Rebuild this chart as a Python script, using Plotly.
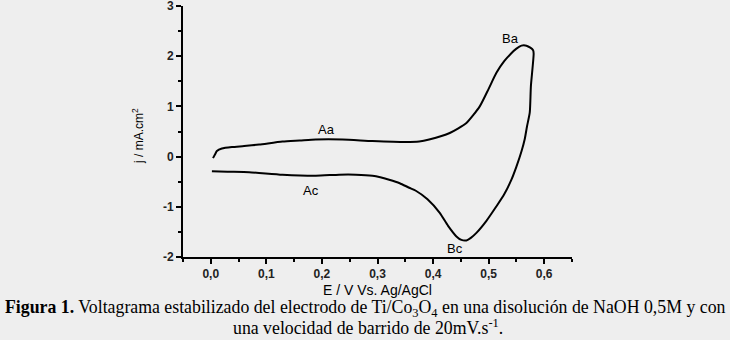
import plotly.graph_objects as go

# Anodic sweep (forward)
E_anodic = [0.004, 0.008, 0.011, 0.020, 0.038, 0.060, 0.087, 0.129, 0.160, 0.189, 0.237, 0.291,
            0.351, 0.375, 0.393, 0.430, 0.460, 0.484, 0.500, 0.514, 0.528, 0.540, 0.550, 0.559,
            0.568, 0.575, 0.580, 0.581]
j_anodic = [-0.03, 0.05, 0.11, 0.16, 0.19, 0.21, 0.24, 0.30, 0.32, 0.34, 0.34, 0.31,
            0.29, 0.30, 0.34, 0.47, 0.67, 1.00, 1.35, 1.67, 1.90, 2.05, 2.15, 2.21,
            2.21, 2.17, 2.12, 2.05]
# Cathodic sweep (reverse)
E_cathodic = [0.581, 0.576, 0.574, 0.569, 0.565, 0.559, 0.550, 0.541, 0.528, 0.514, 0.496,
              0.478, 0.468, 0.460, 0.451, 0.442, 0.427, 0.412, 0.390, 0.369, 0.357, 0.340,
              0.321, 0.305, 0.291, 0.261, 0.231, 0.189, 0.129, 0.069, 0.030, 0.002]
j_cathodic = [2.05, 1.40, 0.88, 0.60, 0.35, 0.10, -0.20, -0.46, -0.75, -0.99, -1.28,
              -1.52, -1.62, -1.67, -1.66, -1.59, -1.38, -1.12, -0.85, -0.68, -0.62, -0.53,
              -0.46, -0.41, -0.38, -0.36, -0.36, -0.38, -0.36, -0.31, -0.30, -0.29]

E = E_anodic + E_cathodic[1:]
j = j_anodic + j_cathodic[1:]

x_ticks = [0.0, 0.1, 0.2, 0.3, 0.4, 0.5, 0.6]
x_ticklabels = ["0,0", "0,1", "0,2", "0,3", "0,4", "0,5", "0,6"]
y_ticks = [-2, -1, 0, 1, 2, 3]
y_ticklabels = ["-2", "-1", "0", "1", "2", "3"]

peak_labels = ["Aa", "Ba", "Ac", "Bc"]
peak_E = [0.208, 0.540, 0.180, 0.440]
peak_j = [0.54, 2.35, -0.68, -1.83]

fig = go.Figure()
fig.add_trace(go.Scatter(x=E, y=j, mode="lines", line=dict(color="black", width=2, shape="spline", smoothing=0.6),
                         showlegend=False, hoverinfo="skip"))

for t, xe, yj in zip(peak_labels, peak_E, peak_j):
    fig.add_annotation(x=xe, y=yj, text=t, showarrow=False,
                       font=dict(family="Liberation Sans, Arial", size=13, color="black"))

axis_common = dict(showline=True, linecolor="black", linewidth=2, ticks="outside", ticklen=5,
                   tickwidth=2, tickcolor="black", showgrid=False, zeroline=False,
                   ticklabeloverflow="allow", automargin=False,
                   tickfont=dict(family="Liberation Sans, Arial", size=12, color="#222", weight="bold"))

fig.update_xaxes(range=[-0.05, 0.65], tickvals=x_ticks, ticktext=x_ticklabels,
                 minor=dict(ticks="outside", dtick=0.05, tick0=0, ticklen=3, tickwidth=2, tickcolor="black"),
                 **axis_common)
fig.update_yaxes(range=[-2, 3.0001], tickvals=y_ticks, ticktext=y_ticklabels,
                 minor=dict(ticks="outside", dtick=0.5, tick0=0, ticklen=3, tickwidth=2, tickcolor="black"),
                 **axis_common)

# axis titles
fig.add_annotation(xref="paper", yref="paper", x=(377 - 183) / 389, y=-33 / 251, yanchor="middle",
                   text="E / V Vs. Ag/AgCl", showarrow=False,
                   font=dict(family="Liberation Sans, Arial", size=14, color="black"))
fig.add_annotation(xref="paper", yref="paper", x=(138 - 183) / 389, y=(257 - 136) / 251, xanchor="center",
                   yanchor="middle", text="j / mA.cm<sup>2</sup>", showarrow=False, textangle=-90,
                   font=dict(family="Liberation Sans, Arial", size=12, color="black"))

# caption
fig.add_annotation(xref="paper", yref="paper", x=(365 - 183) / 389, y=-51 / 251, yanchor="middle",
                   text="<b>Figura 1.</b> Voltagrama estabilizado del electrodo de Ti/Co<sub>3</sub>O<sub>4</sub> en una disolución de NaOH 0,5M y con",
                   showarrow=False, font=dict(family="Liberation Serif, Times New Roman", size=17.8, color="black"))
fig.add_annotation(xref="paper", yref="paper", x=(368 - 183) / 389, y=-70 / 251, yanchor="middle",
                   text="una velocidad de barrido de 20mV.s<sup>-1</sup>.",
                   showarrow=False, font=dict(family="Liberation Serif, Times New Roman", size=17.8, color="black"))

fig.update_layout(width=730, height=340, margin=dict(l=183, r=158, t=6, b=83),
                  paper_bgcolor="#eeeeee", plot_bgcolor="#eeeeee")

fig.write_html("out.html", config={"displayModeBar": False},
               post_script="document.body.style.margin='0';document.body.style.background='#eeeeee';")
